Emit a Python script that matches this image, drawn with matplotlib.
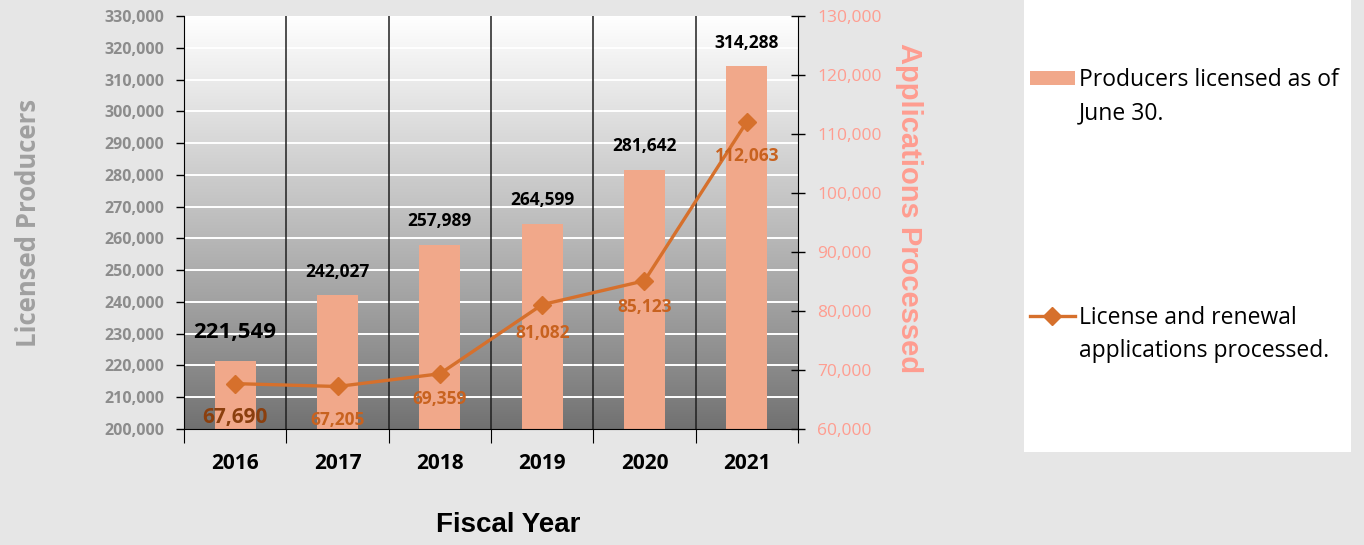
import matplotlib
matplotlib.use("Agg")
import matplotlib.pyplot as plt
import numpy as np
from matplotlib.patches import Rectangle, Patch
from matplotlib.lines import Line2D
from matplotlib.ticker import FuncFormatter

years = ["2016", "2017", "2018", "2019", "2020", "2021"]
producers = [221549, 242027, 257989, 264599, 281642, 314288]
applications = [67690, 67205, 69359, 81082, 85123, 112063]
left_ticks = list(range(200000, 330001, 10000))
right_ticks = list(range(60000, 130001, 10000))
legend_first = ["Producers licensed as of", "License and renewal"]
legend_second = ["June 30.", "applications processed."]

BG = "#e6e6e6"
BAR = "#f1a88a"
LINE = "#d6702c"
SALMON = "#ff9d90"
GRAY = "#8c8c8c"
FONT = "Open Sans"

fig = plt.figure(figsize=(13.64, 5.45), dpi=100, facecolor=BG)
ax = fig.add_axes([184/1364, 116/545, 614/1364, 413/545])
ax.set_facecolor("none")

x = np.arange(len(years))
ax.set_xlim(-0.5, len(years) - 0.5)
ax.set_ylim(200000, 330000)

# gradient background
grad = np.linspace(1, 0, 256).reshape(-1, 1)
vals = 0.44 + 0.56 * grad ** 0.9
img = np.dstack([vals, vals, vals])
ax.imshow(img, extent=[-0.5, len(years) - 0.5, 200000, 330000], aspect="auto",
          zorder=0, interpolation="bilinear")

for t in left_ticks[1:]:
    ax.axhline(t, color="white", lw=1.4, zorder=1)
for b in np.arange(0.5, len(years) - 0.5, 1):
    ax.axvline(b, color="#202020", lw=1.1, zorder=1)

ax.bar(x, producers, width=0.4, color=BAR, zorder=2)

for i, v in enumerate(producers):
    if i == 0:
        ax.text(i, v + 5500, f"{v:,}", ha="center", va="bottom", fontsize=16,
                fontweight="bold", family=FONT, color="black", zorder=5)
    else:
        ax.text(i, v + 4500, f"{v:,}", ha="center", va="bottom", fontsize=12.5,
                fontweight="bold", family=FONT, color="black", zorder=5)

ax.spines["top"].set_visible(False)
ax.spines["right"].set_visible(False)
ax.spines["left"].set_color("black")
ax.spines["bottom"].set_color("black")
ax.set_yticks(left_ticks)
ax.yaxis.set_major_formatter(FuncFormatter(lambda v, p: f"{int(v):,}"))
for lab in ax.get_yticklabels():
    lab.set_fontweight("bold"); lab.set_family(FONT); lab.set_color(GRAY); lab.set_fontsize(11.5)
ax.tick_params(axis="y", direction="out", length=6, width=1, color="black", pad=8)

ax.set_xticks(np.arange(-0.5, len(years), 1))
ax.set_xticklabels([])
ax.tick_params(axis="x", which="major", direction="out", length=10, color="black")
ax.set_xticks(x, minor=True)
ax.set_xticklabels(years, minor=True)
ax.tick_params(axis="x", which="minor", length=0, pad=17)
for lab in ax.get_xticklabels(minor=True):
    lab.set_fontweight("bold"); lab.set_family(FONT); lab.set_fontsize(15); lab.set_color("black")

ax.set_ylabel("Licensed Producers", fontsize=18.5, fontweight="bold", family=FONT,
              color="#a0a0a0")
ax.yaxis.set_label_coords(-0.232, 0.5)
fig.text(508/1364, 1 - 525/545, "Fiscal Year", fontsize=20, fontweight="bold",
         family="Liberation Sans", color="black", ha="center", va="center")

ax2 = ax.twinx()
ax2.set_ylim(60000, 130000)
ax2.set_yticks(right_ticks)
ax2.yaxis.set_major_formatter(FuncFormatter(lambda v, p: f"{int(v):,}"))
for s in ["top", "left", "bottom"]:
    ax2.spines[s].set_visible(False)
ax2.spines["right"].set_color("black")
ax2.tick_params(axis="y", direction="inout", length=10, width=1, color="black",
                labelcolor=SALMON, labelsize=12.5, pad=9)
for lab in ax2.get_yticklabels():
    lab.set_family(FONT)
ax2.plot(x, applications, color=LINE, lw=2.4, marker="D", markersize=9, zorder=4)
ax2.set_ylabel("Applications Processed", rotation=-90, fontsize=21, fontweight="bold",
               family="Liberation Sans", color=SALMON, va="center")
ax2.yaxis.set_label_coords(1.18, 0.535)

offsets = [-5800, -5600, -4200, -4800, -4500, -5800]
for i, v in enumerate(applications):
    if i == 0:
        ax2.text(i, v + offsets[i], f"{v:,}", ha="center", va="center", fontsize=15,
                 fontweight="bold", family=FONT, color="#8b3f0e", zorder=6)
    else:
        ax2.text(i, v + offsets[i], f"{v:,}", ha="center", va="center", fontsize=12.5,
                 fontweight="bold", family=FONT, color="#c8621f", zorder=6)

# legend panel
fig.patches.append(Rectangle((1024/1364, (545-452)/545), (1351-1024)/1364, 452/545,
                             transform=fig.transFigure, facecolor="white",
                             edgecolor="none", zorder=0))
LFS = 16.5
h1 = Patch(facecolor=BAR, edgecolor="none")
h2 = Line2D([], [], color=LINE, lw=2.4, marker="D", markersize=9)
leg = fig.legend([h1, h2], legend_first,
                 loc="upper left", bbox_to_anchor=(1030/1364, 1 - 68/545),
                 frameon=False, prop={"family": FONT, "size": LFS},
                 handlelength=1.95, handleheight=0.62, handletextpad=0.2,
                 labelspacing=9.33, borderaxespad=0, borderpad=0)
fig.canvas.draw()
r = fig.canvas.get_renderer()
for t, extra in zip(leg.get_texts(), legend_second):
    bb = t.get_window_extent(r)
    fig.text(bb.x0 / fig.bbox.width, (bb.y0 - 33 + (bb.y1 - bb.y0) / 2) / fig.bbox.height,
             extra, family=FONT, fontsize=LFS, color="black", ha="left", va="center")

fig.savefig("out.png", dpi=100, facecolor=BG)
